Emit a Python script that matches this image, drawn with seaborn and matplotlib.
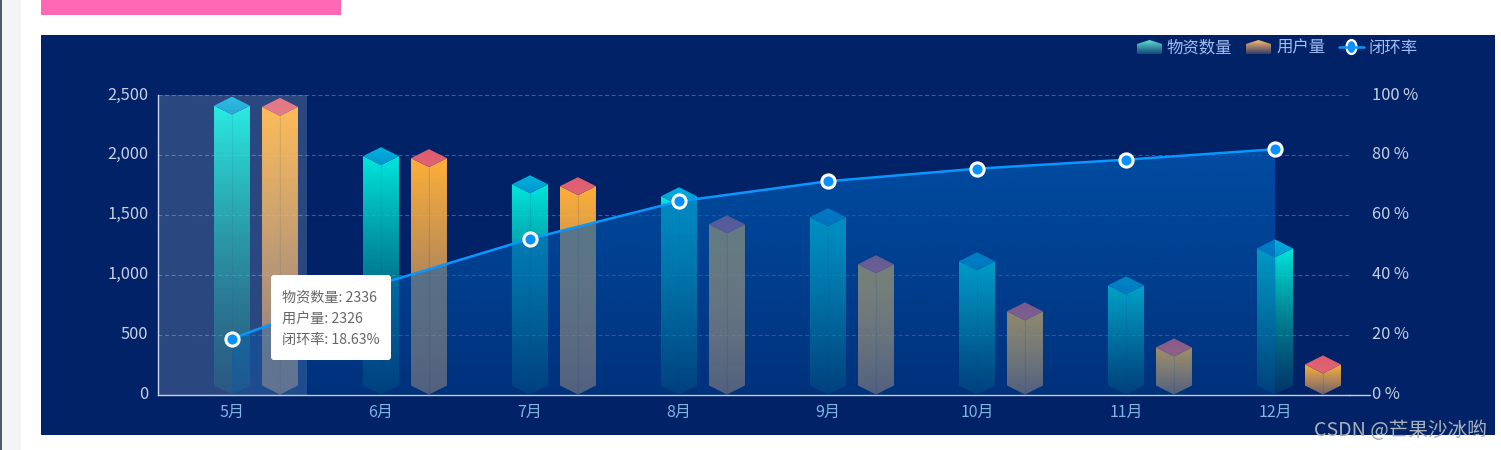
import numpy as np
import pandas as pd
import seaborn as sns
import matplotlib.pyplot as plt
from matplotlib.patches import Polygon, Rectangle, FancyBboxPatch, Ellipse
from matplotlib.transforms import ScaledTranslation

months = ["5月", "6月", "7月", "8月", "9月", "10月", "11月", "12月"]
material = [2336, 1915, 1680, 1580, 1405, 1037, 836, 1145]
users = [2326, 1898, 1664, 1346, 1012, 619, 318, 176]
rate = [18.63, 37, 52, 64.5, 71.2, 75.4, 78.4, 81.9]
count_ticks = [0, 500, 1000, 1500, 2000, 2500]
rate_ticks = [0, 20, 40, 60, 80, 100]

W, H = 1501, 450
BG = "#012266"
GRID = "#41598f"
AXIS = "#c3d0e8"
TICK = "#c5cfe4"

sns.set_theme(style="dark")
plt.rcParams["font.family"] = ["Noto Sans CJK SC", "DejaVu Sans"]
plt.rcParams["axes.unicode_minus"] = False


def gradient(ax, verts, top, bottom, y0, y1, zorder=3):
    # vertical rgba gradient between y1 (top colour) and y0, clipped to a polygon
    ramp = np.linspace(0, 1, 128)[:, None, None]
    img = np.array(top)[None, None, :] * (1 - ramp) + np.array(bottom)[None, None, :] * ramp
    xs = [v[0] for v in verts]
    im = ax.imshow(img, extent=[min(xs), max(xs), y0, y1], origin="upper", aspect="auto",
                   interpolation="bilinear", zorder=zorder)
    im.set_clip_path(Polygon(verts, closed=True, transform=ax.transData))
    return im


def rgba(c, a):
    return [c[0] / 255, c[1] / 255, c[2] / 255, a]


def nudge_up(labels, px):
    for lab in labels:
        lab.set_transform(lab.get_transform() + ScaledTranslation(0, px / 100, fig.dpi_scale_trans))


fig = plt.figure(figsize=(W / 100, H / 100), dpi=100, facecolor="white")

# page behind the chart, in pixels
page = fig.add_axes([0, 0, 1, 1], zorder=0)
page.set_xlim(0, W)
page.set_ylim(H, 0)
page.axis("off")
page.add_patch(Rectangle((0, 0), 1.5, H, color="#4f5b66", lw=0))
page.add_patch(Rectangle((1.5, 0), 19.5, H, color="#f4f4f4", lw=0))
page.add_patch(Rectangle((41, 0), 300, 15, color="#ff69b4", lw=0))
page.add_patch(Rectangle((41, 35), 1454, 400, color=BG, lw=0))

ax = fig.add_axes([157.5 / W, 1 - 394.5 / H, 1192 / W, 299.5 / H], zorder=1)
ax.patch.set_alpha(0)

df = pd.DataFrame({
    "month": months * 2,
    "value": material + users,
    "series": ["物资数量"] * 8 + ["用户量"] * 8,
})
sns.barplot(data=df, x="month", y="value", hue="series", order=months, width=0.644, gap=0.25,
            dodge=True, legend=False, errorbar=None, ax=ax)

ax.set_xlim(-0.5, 7.5)
ax.set_ylim(0, 2500)

# 299px for 2500 units, so a 9px diamond half height
dh = 75
shift = 0.161  # first bar sits on the category centre

styles = [
    {"top": (0, 232, 222), "low": (0, 140, 130), "cap0": (0, 178, 222), "cap1": (0, 150, 205), "end": 0.2},
    {"top": (255, 176, 56), "low": (235, 170, 110), "cap0": (225, 92, 110), "cap1": (222, 100, 115), "end": 0.48},
]

bars = [p for p in ax.patches if p.get_height() > 0]
for i, p in enumerate(bars):
    st = styles[0] if i < 8 else styles[1]
    w = p.get_width() / 2
    xc = p.get_x() + w + shift
    v = p.get_height()
    p.set_visible(False)
    top = v + 2 * dh
    left = [(xc - w, v + dh), (xc, v), (xc, 0), (xc - w, dh)]
    right = [(xc, v), (xc + w, v + dh), (xc + w, dh), (xc, 0)]
    cap = [(xc, top), (xc + w, v + dh), (xc, v), (xc - w, v + dh)]
    c0 = rgba(st["top"], 1)
    c1 = rgba(st["low"], st["end"])
    gradient(ax, left, c0, c1, 0, v + dh)
    gradient(ax, right, c0, c1, 0, v + dh)
    gradient(ax, cap, rgba(st["cap0"], 1), rgba(st["cap1"], 1), v, top, zorder=3.2)
    ax.plot([xc, xc], [0, v], color="#0a2a60", alpha=0.12, lw=0.8, zorder=3.1)

# highlighted category band goes over the bars
ax.add_patch(Rectangle((-0.5, 0), 1, 2500, color="white", alpha=0.17, lw=0, zorder=4))

ax.set_yticks(count_ticks)
ax.set_yticklabels([f"{v:,}" for v in count_ticks])
ax.set_xlabel("")
ax.set_ylabel("")
ax.grid(False)
ax.yaxis.grid(True, color=GRID, ls=(0, (3.5, 2.5)), lw=0.8)
ax.set_axisbelow(True)
ax.tick_params(axis="y", length=0, pad=6.6, labelsize=11.8, labelcolor=TICK)
ax.tick_params(axis="x", length=0, pad=6.6, labelsize=11.5, labelcolor="#7fb4e4")
for s in ["top", "right"]:
    ax.spines[s].set_visible(False)
for s in ["left", "bottom"]:
    ax.spines[s].set_color(AXIS)
    ax.spines[s].set_linewidth(1)

ax2 = ax.twinx()
ax2.patch.set_alpha(0)
ax2.set_ylim(0, 100)
xpos = np.arange(len(months))
area = [(xpos[0], 0)] + list(zip(xpos, rate)) + [(xpos[-1], 0)]
gradient(ax2, area, rgba((0, 90, 181), 0.76), rgba((0, 90, 181), 0.28), 0, max(rate), zorder=1)
sns.lineplot(x=xpos, y=rate, ax=ax2, color="#0a96ff", lw=1.8, marker="o", markersize=9.5,
             markerfacecolor="#0791ff", markeredgecolor="white", markeredgewidth=2.2, zorder=3,
             errorbar=None)
ax2.set_xlim(-0.5, 7.5)
ax2.set_ylim(0, 100)
ax2.set_yticks(rate_ticks)
ax2.set_yticklabels([f"{v} %" for v in rate_ticks])
ax2.tick_params(axis="y", length=0, pad=16, labelsize=11.8, labelcolor=TICK)
ax2.set_ylabel("")
ax2.grid(False)
for s in ax2.spines.values():
    s.set_visible(False)

nudge_up(ax.get_yticklabels(), 2)
nudge_up(ax2.get_yticklabels(), 2)

# overlay in pixels: axis stub, tooltip, legend, watermark
top_ax = fig.add_axes([0, 0, 1, 1], zorder=5)
top_ax.set_xlim(0, W)
top_ax.set_ylim(H, 0)
top_ax.axis("off")
top_ax.patch.set_alpha(0)
top_ax.plot([1349, 1370], [394.5, 394.5], color=AXIS, lw=1)

top_ax.add_patch(FancyBboxPatch((274, 278), 114, 79, boxstyle="round,pad=3", fc="white", ec="none"))
tip = [f"物资数量: {material[0]}", f"用户量: {users[0]}", f"闭环率: {rate[0]}%"]
for y, t in zip([302, 323, 344], tip):
    top_ax.text(282, y, t, color="#666666", fontsize=10.2, va="baseline", ha="left")


def legend_gem(x, color):
    y0, y1 = 40, 54
    verts = [(x, 44), (x + 12.5, 40), (x + 25, 44), (x + 25, y1), (x, y1)]
    ramp = np.linspace(0, 1, 32)[:, None, None]
    c = np.array(color + (1,))[None, None, :]
    img = np.repeat(c, 32, axis=0).copy()
    img[:, :, 3] = (1 - 0.8 * ramp[:, :, 0])
    im = top_ax.imshow(img, extent=[x, x + 25, y1, y0], aspect="auto", interpolation="bilinear")
    im.set_clip_path(Polygon(verts, closed=True, transform=top_ax.transData))


legend_gem(1137, (0.36, 0.88, 0.82))
legend_gem(1246, (1.0, 0.72, 0.42))
top_ax.plot([1339, 1364], [47, 47], color="#0a96ff", lw=1.8)
top_ax.add_patch(Ellipse((1351.5, 47), 10, 14, fc="#0791ff", ec="white", lw=1.6))
for x, t in zip([1167, 1276, 1369], ["物资数量", "用户量", "闭环率"]):
    top_ax.text(x, 52.5, t, color="#a3bdf3", fontsize=11.8, va="baseline", ha="left")

top_ax.text(1314, 436, "CSDN @芒果沙冰哟", color="#a9b0b8", fontsize=14.1, va="baseline", ha="left")
top_ax.set_xlim(0, W)
top_ax.set_ylim(H, 0)

fig.savefig("out.png", dpi=100, facecolor="white")
plt.close(fig)
